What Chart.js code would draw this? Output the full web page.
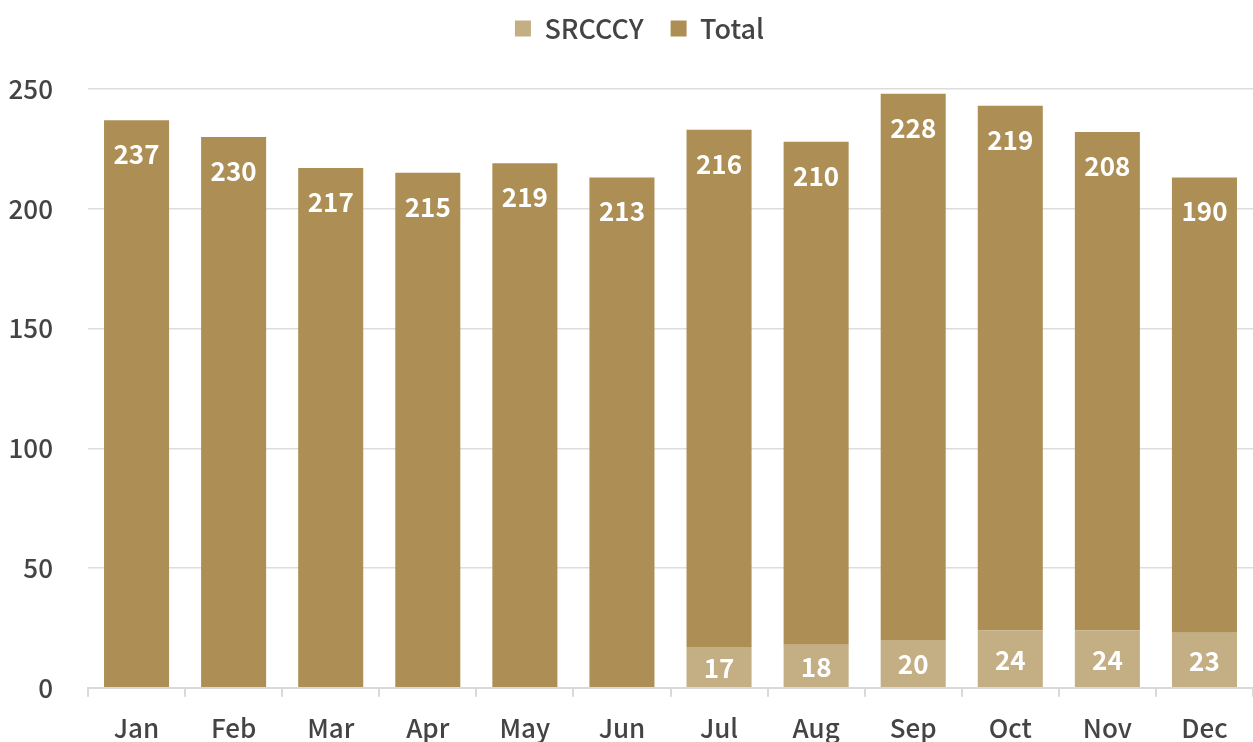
<!DOCTYPE html>
<html>
<head>
<meta charset="utf-8">
<script src="https://cdn.jsdelivr.net/npm/chart.js@4"></script>
<style>
html,body{margin:0;padding:0;overflow:hidden;background:#fff;}
#wrap{width:1253px;height:760px;position:relative;}
</style>
</head>
<body>
<div id="wrap"><canvas id="c"></canvas></div>
<script>
const categories = ['Jan','Feb','Mar','Apr','May','Jun','Jul','Aug','Sep','Oct','Nov','Dec'];
const srcccy = [null,null,null,null,null,null,17,18,20,24,24,23];
const total = [237,230,217,215,219,213,216,210,228,219,208,190];
const yTicks = [0,50,100,150,200,250];

const FONT = "'Noto Sans CJK SC','Noto Sans',sans-serif";

const labelPlugin = {
  id: 'barLabels',
  afterDatasetsDraw(chart) {
    const ctx = chart.ctx;
    ctx.save();
    ctx.font = "bold 26px " + FONT;
    ctx.fillStyle = '#ffffff';
    ctx.textAlign = 'center';
    ctx.textBaseline = 'middle';
    chart.data.datasets.forEach((ds, di) => {
      const meta = chart.getDatasetMeta(di);
      meta.data.forEach((el, i) => {
        const v = ds.data[i];
        if (v == null) return;
        const top = Math.min(el.y, el.base);
        const bottom = Math.max(el.y, el.base);
        let y;
        if (di === 0) y = (top + bottom) / 2 + 1;
        else y = top + 34;
        ctx.fillText(String(v), el.x, y);
      });
    });
    ctx.restore();
  }
};

const legendSpace = {
  id: 'legendSpace',
  beforeInit(chart) {
    const orig = chart.legend.fit;
    chart.legend.fit = function () {
      orig.bind(chart.legend)();
      this.height += 37;
    };
  },
  afterLayout(chart) {
    chart.legend.left += 26;
  }
};

new Chart(document.getElementById('c'), {
  type: 'bar',
  data: {
    labels: categories,
    datasets: [
      { label: 'SRCCCY', data: srcccy, backgroundColor: '#C4AE83', stack: 's' },
      { label: 'Total', data: total, backgroundColor: '#AD8F56', stack: 's' }
    ]
  },
  options: {
    responsive: true,
    maintainAspectRatio: false,
    animation: false,
    layout: { padding: { left: 0, right: 0, top: -12, bottom: 0 } },
    plugins: {
      legend: {
        position: 'top',
        labels: {
          font: { family: FONT, size: 27, weight: '500' },
          color: '#444444',
          boxWidth: 16,
          boxHeight: 16,
          padding: 27
        }
      },
      tooltip: { enabled: false }
    },
    datasets: { bar: { barPercentage: 0.67, categoryPercentage: 1.0 } },
    scales: {
      x: {
        stacked: true,
        grid: { display: true, drawOnChartArea: false, offset: true, tickLength: 9, color: '#d9d9d9', lineWidth: 2 },
        border: { display: true, color: '#d9d9d9', width: 2 },
        ticks: { font: { family: FONT, size: 26, weight: '500' }, color: '#444444', padding: 16 }
      },
      y: {
        stacked: true,
        min: 0,
        max: 250,
        afterBuildTicks(axis) { axis.ticks = yTicks.map(v => ({ value: v })); },
        afterFit(axis) { axis.width = 88; },
        grid: { color: '#dddddd', lineWidth: 1.5, drawTicks: false },
        border: { display: false },
        ticks: { font: { family: FONT, size: 26, weight: '500' }, color: '#444444', padding: 35 }
      }
    }
  },
  plugins: [labelPlugin, legendSpace]
});
</script>
</body>
</html>
